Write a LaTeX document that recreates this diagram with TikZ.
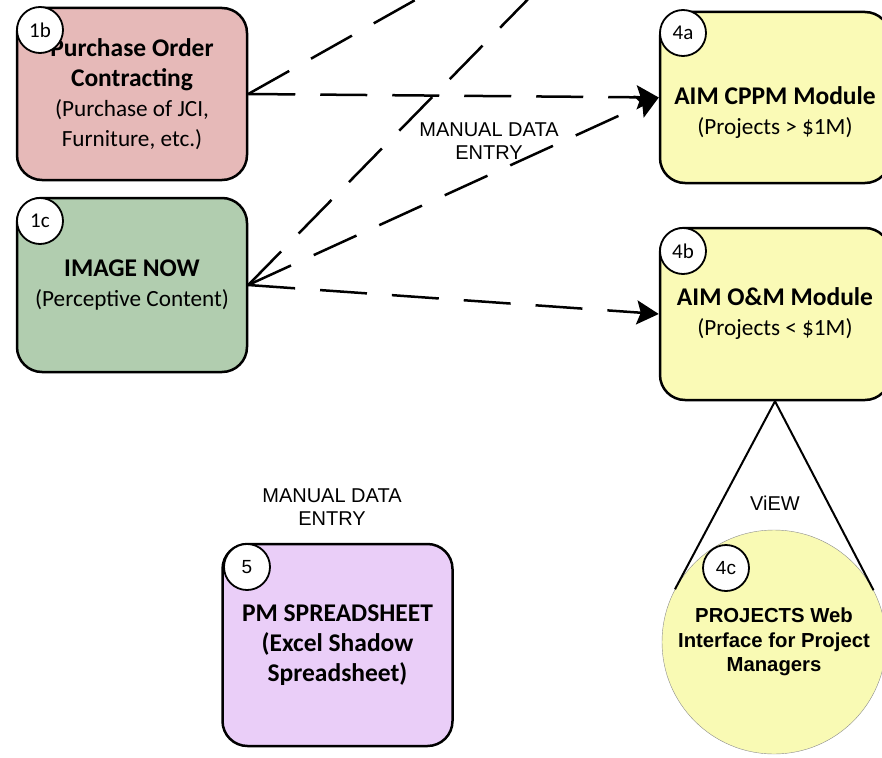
\documentclass[tikz,border=0pt]{standalone}
\usepackage{fontspec}
\setmainfont{Carlito}
\newfontfamily\arialfont{Liberation Sans}
\usetikzlibrary{arrows.meta,calc}
\definecolor{po-pink}{RGB}{230,185,184}
\definecolor{img-green}{RGB}{177,205,175}
\definecolor{aim-yellow}{RGB}{250,250,182}
\definecolor{pm-lilac}{RGB}{234,206,248}
\definecolor{web-yellow}{RGB}{249,250,180}
\newcommand{\boxtitle}{\fontsize{25.5}{30}\selectfont\bfseries}
\tikzset{
    module-box/.style = {draw=black, line width=2.5pt, rectangle, rounded corners=25pt, minimum width=230pt, inner sep=0pt, text width=224pt, align=flush center, font=\fontsize{23.2}{30}\selectfont},
    module-text/.style = {text width=224pt, align=flush center, inner sep=0pt, font=\fontsize{23.2}{30}\selectfont},
    badge/.style = {draw=black, fill=white, line width=1.8pt, circle, minimum size=46pt, inner sep=0pt, font=\fontsize{21}{21}\selectfont},
    badge-arial/.style = {badge, font=\arialfont\fontsize{19}{19}\selectfont},
    note-text/.style = {align=center, inner sep=0pt, font=\arialfont\fontsize{20}{23}\selectfont},
    web-circle/.style = {draw=black!45, fill=web-yellow, thin, circle, minimum size=224pt, inner sep=0pt, text width=205pt, align=flush center, font=\arialfont\bfseries\fontsize{20.3}{24.5}\selectfont},
    data-link/.style = {line width=2.5pt, dash pattern=on 47pt off 25pt},
    cone-line/.style = {line width=2pt},
}

\begin{document}
\begin{tikzpicture}[x=1pt,y=-1pt]
\useasboundingbox (0,0) rectangle (882,757);

% source systems
\node [module-box, fill=po-pink, minimum height=172pt] (b1b) at (132,94) {{\boxtitle Purchase Order\\ Contracting}\\ (Purchase of JCI,\\ Furniture, etc.)};
\node [module-box, fill=img-green, minimum height=174pt] (b1c) at (132,285) {{\boxtitle IMAGE NOW}\\ (Perceptive Content)};

% AIM modules
\node [module-box, fill=aim-yellow, minimum height=171pt] (b4a) at (775,97.5) {};
\node [module-text] (t4a) at ([yshift=-15pt]b4a.center) {{\boxtitle AIM CPPM Module}\\ (Projects > \$1M)};
\node [module-box, fill=aim-yellow, minimum height=172pt] (b4b) at (775,314) {{\boxtitle AIM O\&M Module}\\ (Projects < \$1M)};

% web view
\node [web-circle] (c4c) at (774,642) {PROJECTS Web\\ Interface for Project\\ Managers};
\draw [cone-line] (b4b.south) -- (tangent cs:node=c4c,point={(b4b.south)},solution=1);
\draw [cone-line] (b4b.south) -- (tangent cs:node=c4c,point={(b4b.south)},solution=2);
\node [note-text] (view) at (775,503) {ViEW};

% spreadsheet
\node [module-box, fill=pm-lilac, minimum height=202pt] (b5) at (337.5,645) {{\boxtitle PM SPREADSHEET\\ (Excel Shadow\\ Spreadsheet)}};
\node [note-text] (manual2) at (332,507) {MANUAL DATA\\ ENTRY};

% links
\coordinate (offA) at (433,-10);
\coordinate (offB) at (537,-10);
\draw [data-link] (b1b.east) -- (offA);
\draw [data-link] (b1c.east) -- (offB);
\draw [data-link, -{Stealth[length=22pt,width=24pt,inset=4pt]}] (b1b.east) -- (b4a.west);
\draw [data-link, -{Stealth[length=22pt,width=24pt,inset=4pt]}] (b1c.east) -- (b4a.west);
\draw [data-link, -{Stealth[length=22pt,width=24pt,inset=4pt]}] (b1c.east) -- (b4b.west);
\node [note-text] (manual1) at (489,141) {MANUAL DATA\\ ENTRY};

% numbers
\node [badge] (n1b) at (40,30) {1b};
\node [badge] (n1c) at (40,221) {1c};
\node [badge] (n4a) at (683,33) {4a};
\node [badge] (n4b) at (683,251) {4b};
\node [badge-arial] (n4c) at (726,568) {4c};
\node [badge-arial] (n5) at (247,567) {5};
\end{tikzpicture}
\end{document}
